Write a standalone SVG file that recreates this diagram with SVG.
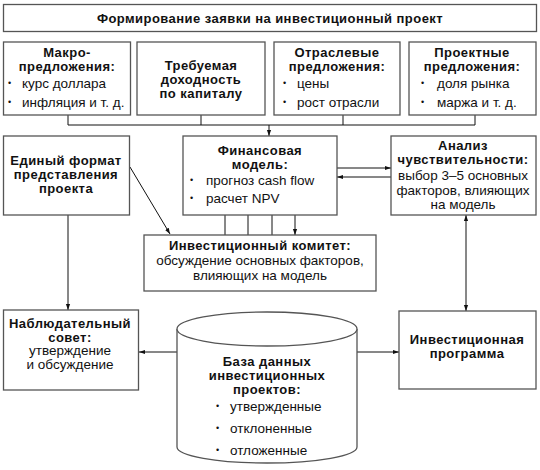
<svg xmlns="http://www.w3.org/2000/svg" width="540" height="470" viewBox="0 0 540 470">
<defs>
<marker id="ah" viewBox="0 0 10 10" refX="10" refY="5" markerWidth="6" markerHeight="6" orient="auto-start-reverse" markerUnits="userSpaceOnUse">
<path d="M0,1.5 L10,5 L0,8.5 z" fill="#111"/>
</marker>
<style>
.box{fill:#fff;stroke:#555;stroke-width:1.3}
.b{font-family:"Liberation Sans",Arial,sans-serif;font-weight:bold;font-size:13px;letter-spacing:0.45px;fill:#111}
.r{font-family:"Liberation Sans",Arial,sans-serif;font-size:13.5px;fill:#111}
.d{font-family:"Liberation Sans",Arial,sans-serif;font-size:9px;fill:#111}
.c{text-anchor:middle}
.ln{fill:none;stroke:#111;stroke-width:1}
.ar{fill:none;stroke:#111;stroke-width:1;marker-end:url(#ah)}
</style>
</defs>
<rect width="540" height="470" fill="#fff"/>
<g id="connectors">
<path class="ln" d="M68,115 V125 M201,115 V125 M343,115 V125 M475,115 V125 M68,125 H475"/>
<path class="ar" d="M269,125 V136"/>
<path class="ar" d="M225,215 V235 M248,215 V235 M272,215 V235 M295,215 V235"/>
<path class="ar" d="M337,168 H391"/>
<path class="ar" d="M391,177 H337"/>
<path class="ar" d="M130,167 L170,234"/>
<path class="ar" d="M68,215 V310"/>
<path class="ar" d="M177,352 H139"/>
<path class="ar" d="M357,352 H399"/>
<path class="ln" d="M466,215 V311" marker-start="url(#ah)" marker-end="url(#ah)"/>
</g>
<g id="title">
<rect class="box" x="3.5" y="4.5" width="533" height="27"/>
<text class="b c" x="270" y="23">Формирование заявки на инвестиционный проект</text>
</g>
<g id="macro">
<rect class="box" x="3.5" y="42" width="127" height="73"/>
<text class="b c" x="67" y="57">Макро-</text>
<text class="b c" x="67" y="71">предложения:</text>
<text class="d" x="8" y="86">•</text><text class="r" x="22" y="88">курс доллара</text>
<text class="d" x="8" y="105">•</text><text class="r" x="22" y="107">инфляция и т. д.</text>
</g>
<g id="return">
<rect class="box" x="137" y="42" width="128" height="73"/>
<text class="b c" x="201" y="70">Требуемая</text>
<text class="b c" x="201" y="84">доходность</text>
<text class="b c" x="201" y="98">по капиталу</text>
</g>
<g id="industry">
<rect class="box" x="274" y="42" width="126" height="73"/>
<text class="b c" x="337" y="57">Отраслевые</text>
<text class="b c" x="337" y="71">предложения:</text>
<text class="d" x="283" y="86">•</text><text class="r" x="297" y="88">цены</text>
<text class="d" x="283" y="105">•</text><text class="r" x="297" y="107">рост отрасли</text>
</g>
<g id="project">
<rect class="box" x="409" y="42" width="127" height="73"/>
<text class="b c" x="472" y="57">Проектные</text>
<text class="b c" x="472" y="71">предложения:</text>
<text class="d" x="421" y="86">•</text><text class="r" x="437" y="88">доля рынка</text>
<text class="d" x="421" y="105">•</text><text class="r" x="437" y="107">маржа и т. д.</text>
</g>
<g id="format">
<rect class="box" x="3.5" y="136" width="126" height="79"/>
<text class="b c" x="66" y="165">Единый формат</text>
<text class="b c" x="66" y="179">представления</text>
<text class="b c" x="66" y="193">проекта</text>
</g>
<g id="finmodel">
<rect class="box" x="183" y="136" width="154" height="79"/>
<text class="b c" x="260" y="155">Финансовая</text>
<text class="b c" x="260" y="169">модель:</text>
<text class="d" x="190" y="183">•</text><text class="r" x="206" y="185">прогноз cash flow</text>
<text class="d" x="190" y="201">•</text><text class="r" x="206" y="203">расчет NPV</text>
</g>
<g id="analysis">
<rect class="box" x="391" y="136" width="145" height="79"/>
<text class="b c" x="463" y="150">Анализ</text>
<text class="b c" x="463" y="164">чувствительности:</text>
<text class="r c" x="463" y="180">выбор 3–5 основных</text>
<text class="r c" x="463" y="195">факторов, влияющих</text>
<text class="r c" x="463" y="209">на модель</text>
</g>
<g id="committee">
<rect class="box" x="144" y="235" width="232" height="56"/>
<text class="b c" x="260" y="250">Инвестиционный комитет:</text>
<text class="r c" x="260" y="265">обсуждение основных факторов,</text>
<text class="r c" x="260" y="280">влияющих на модель</text>
</g>
<g id="board">
<rect class="box" x="3.5" y="310" width="135" height="80"/>
<text class="b c" x="70" y="328">Наблюдательный</text>
<text class="b c" x="70" y="341.5">совет:</text>
<text class="r c" x="70" y="355">утверждение</text>
<text class="r c" x="70" y="368.5">и обсуждение</text>
</g>
<g id="database">
<path class="box" d="M177,329 A90,17 0 0 1 357,329 V447 A90,16 0 0 1 177,447 Z"/>
<path class="box" d="M177,329 A90,17 0 0 0 357,329" fill="none"/>
<text class="b c" x="267" y="366">База данных</text>
<text class="b c" x="267" y="380">инвестиционных</text>
<text class="b c" x="267" y="394">проектов:</text>
<text class="d" x="216" y="409">•</text><text class="r" x="230" y="411">утвержденные</text>
<text class="d" x="216" y="431">•</text><text class="r" x="230" y="433">отклоненные</text>
<text class="d" x="216" y="453">•</text><text class="r" x="230" y="455">отложенные</text>
</g>
<g id="program">
<rect class="box" x="399" y="311" width="137" height="78"/>
<text class="b c" x="467" y="344">Инвестиционная</text>
<text class="b c" x="467" y="358">программа</text>
</g>
</svg>
